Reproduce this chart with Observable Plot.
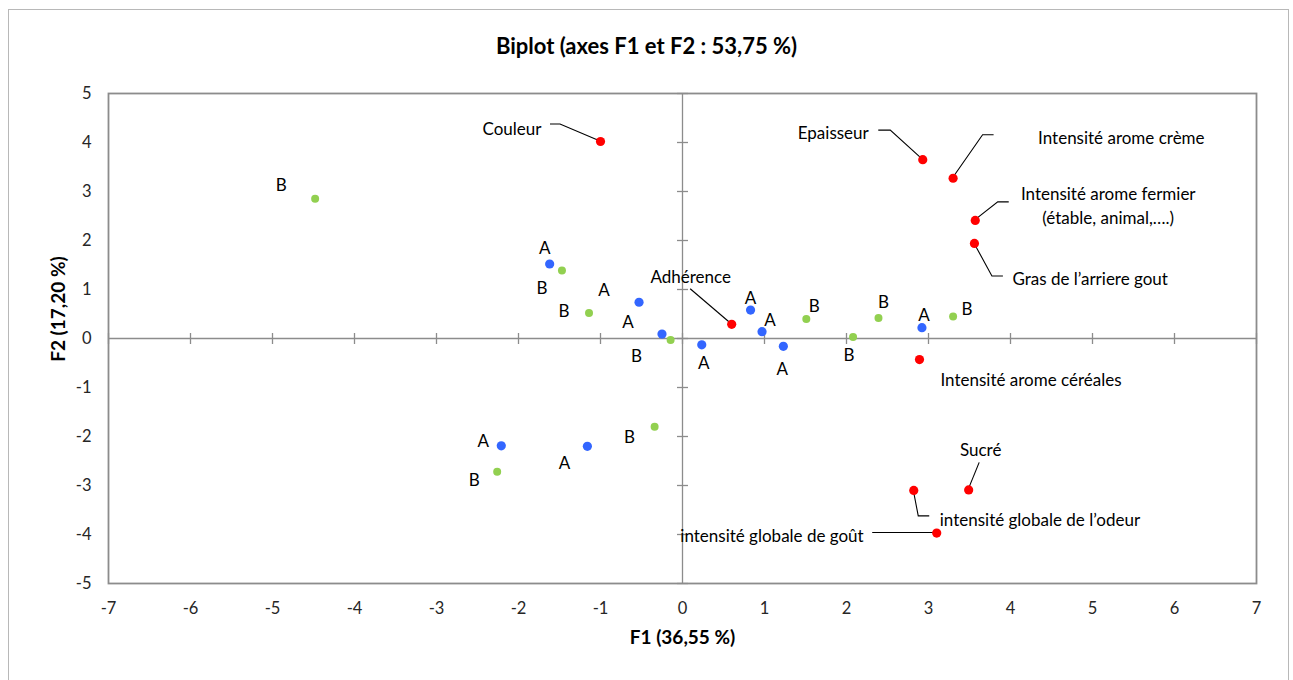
<!DOCTYPE html>
<html>
<head>
<meta charset="utf-8">
<script src="https://cdn.jsdelivr.net/npm/d3@7"></script>
<script src="https://cdn.jsdelivr.net/npm/@observablehq/plot@0.6"></script>
<style>
  body { margin: 0; background: #fff; font-family: Lato, "Open Sans", sans-serif; }
  #wrap { position: relative; width: 1293px; height: 680px; overflow: hidden; }
  #border { position: absolute; left: 8px; top: 9px; width: 1281px; height: 700px; border: 1.5px solid #b8b8b8; box-sizing: border-box; }
  #title { position: absolute; left: 0; top: 33px; width: 1293px; text-align: center; font-weight: bold; font-size: 22px; line-height: 26px; color: #000; }
  #ytitle { position: absolute; left: 58px; top: 309px; transform: translate(-50%, -50%) rotate(-90deg); white-space: nowrap; font-weight: bold; font-size: 19px; line-height: 22px; color: #000; }
  #chart { position: absolute; left: 0; top: 70px; }
</style>
</head>
<body>
<div id="wrap">
  <div id="border"></div>
  <div id="title"></div>
  <div id="chart"></div>
  <div id="ytitle"></div>
</div>
<script>
// ---------- data ----------
const chartTitle = "Biplot (axes F1 et F2 : 53,75 %)";
const xTitle = "F1 (36,55 %)";
const yTitle = "F2 (17,20 %)";
const xTicks = [-7, -6, -5, -4, -3, -2, -1, 0, 1, 2, 3, 4, 5, 6, 7];
const yTicks = [-5, -4, -3, -2, -1, 0, 1, 2, 3, 4, 5];

// observations (products), group A (blue) and B (green)
const obsA_F1 = [-1.62, -0.53, -0.25, 0.235, 0.83, 0.97, 1.23, 2.92, -2.21, -1.16];
const obsA_F2 = [1.52, 0.74, 0.09, -0.13, 0.58, 0.14, -0.16, 0.22, -2.19, -2.20];
const obsB_F1 = [-4.48, -1.47, -1.14, -0.145, 1.51, 2.39, 2.08, 3.30, -2.26, -0.34];
const obsB_F2 = [2.85, 1.39, 0.52, -0.03, 0.40, 0.42, 0.03, 0.45, -2.72, -1.80];

// variables (red)
const varNames = [
  "Couleur", "Epaisseur", "Intensité arome crème",
  "Intensité arome fermier\n(étable, animal,….)", "Gras de l’arriere gout",
  "Adhérence", "Intensité arome céréales", "Sucré",
  "intensité globale de l’odeur", "intensité globale de goût"
];
const varF1 = [-1.00, 2.93, 3.30, 3.57, 3.56, 0.60, 2.89, 3.49, 2.82, 3.10];
const varF2 = [4.02, 3.65, 3.27, 2.41, 1.94, 0.29, -0.43, -3.09, -3.10, -3.97];

// ---------- label layout (pixel offsets from the point, not data) ----------
const labelOffA = [[-5,-17],[-35,-14],[-34,-14],[2,17],[0,-14],[8,-13],[-1,21],[2,-14],[-18,-6],[-23,15]];
const labelOffB = [[-34,-15],[-20,16],[-25,-3],[-34,15],[8,-14],[5,-17],[-4,17],[14,-9],[-23,7],[-25,9]];
const varLayout = [
  {anchor: "end",    dx: -59, dy: -14, leader: [[-40,-17],[-50,-17]]},
  {anchor: "end",    dx: -54, dy: -28, leader: [[-32,-29],[-44,-29]]},
  {anchor: "start",  dx: 85,  dy: -42, leader: [[30,-43],[41,-43]]},
  {anchor: "middle", dx: 133, dy: -16, leader: [[23,-18],[34,-18]]},
  {anchor: "start",  dx: 38,  dy: 34,  leader: [[18,33],[29,33]]},
  {anchor: "middle", dx: -41, dy: -49, leader: [[-41,-35]]},
  {anchor: "start",  dx: 21,  dy: 19,  leader: null},
  {anchor: "middle", dx: 12,  dy: -41, leader: [[11,-27]]},
  {anchor: "start",  dx: 26,  dy: 28,  leader: [[5,26],[16,26]]},
  {anchor: "end",    dx: -73, dy: 2,   leader: [[-64,0]]}
];

// ---------- tables ----------
const obsA = obsA_F1.map((x, i) => ({x, y: obsA_F2[i], label: "A", dx: labelOffA[i][0], dy: labelOffA[i][1]}));
const obsB = obsB_F1.map((x, i) => ({x, y: obsB_F2[i], label: "B", dx: labelOffB[i][0], dy: labelOffB[i][1]}));
const vars = varF1.map((x, i) => ({x, y: varF2[i], name: varNames[i], ...varLayout[i]}));

const axisGray = "#8c8c8c";
const vTick = {draw(ctx) { ctx.moveTo(0, -5.5); ctx.lineTo(0, 5.5); }};
const hTick = {draw(ctx) { ctx.moveTo(-5.5, 0); ctx.lineTo(5.5, 0); }};

function leaderMark(index, scales) {
  const g = d3.create("svg:g");
  vars.forEach(v => {
    if (!v.leader) return;
    const px = scales.x(v.x), py = scales.y(v.y);
    const pts = [[px, py], ...v.leader.map(([a, b]) => [px + a, py + b])];
    g.append("polyline")
      .attr("points", pts.map(p => p.join(",")).join(" "))
      .attr("fill", "none").attr("stroke", "#000").attr("stroke-width", 1.1);
  });
  return g.node();
}

function textPerRow(data, textKey, extra = {}) {
  return data.map(d => Plot.text([d], {x: "x", y: "y", text: textKey, dx: d.dx, dy: d.dy,
    textAnchor: d.anchor || "middle", fill: "#000", fontSize: 17, lineHeight: 1.37, ...extra}));
}

document.getElementById("title").textContent = chartTitle;
document.getElementById("ytitle").textContent = yTitle;

const chart = Plot.plot({
  width: 1293,
  height: 610,
  marginLeft: 108,
  marginRight: 37,
  marginTop: 23,
  marginBottom: 97,
  style: {fontFamily: "Lato, 'Open Sans', sans-serif", fontSize: "16.5px", color: "#262626", background: "transparent"},
  x: {domain: [-7, 7], ticks: xTicks, tickSize: 0, tickPadding: 19, label: null, tickFormat: d => String(d)},
  y: {domain: [-5, 5], ticks: yTicks, tickSize: 0, tickPadding: 17, label: null, tickFormat: d => String(d)},
  marks: [
    Plot.ruleY([0], {stroke: axisGray, strokeWidth: 1.3}),
    Plot.ruleX([0], {stroke: axisGray, strokeWidth: 1.3}),
    Plot.dot(xTicks, {x: d => d, y: () => 0, symbol: vTick, fill: "none", stroke: axisGray, strokeWidth: 1.3}),
    Plot.dot(yTicks, {x: () => 0, y: d => d, symbol: hTick, fill: "none", stroke: axisGray, strokeWidth: 1.3}),
    Plot.frame({stroke: axisGray, strokeWidth: 1.8}),
    leaderMark,
    Plot.dot(obsA, {x: "x", y: "y", r: 4.6, fill: "#3366ff", stroke: "none"}),
    Plot.dot(obsB, {x: "x", y: "y", r: 4, fill: "#92d050", stroke: "none"}),
    Plot.dot(vars, {x: "x", y: "y", r: 4.6, fill: "#ff0000", stroke: "none"}),
    ...textPerRow(obsA, "label"),
    ...textPerRow(obsB, "label"),
    ...textPerRow(vars, "name"),
    Plot.text([xTitle], {frameAnchor: "bottom", dy: 60, text: d => d, fontWeight: "bold", fontSize: 19, fill: "#000"})
  ]
});
document.getElementById("chart").appendChild(chart);
</script>
</body>
</html>
